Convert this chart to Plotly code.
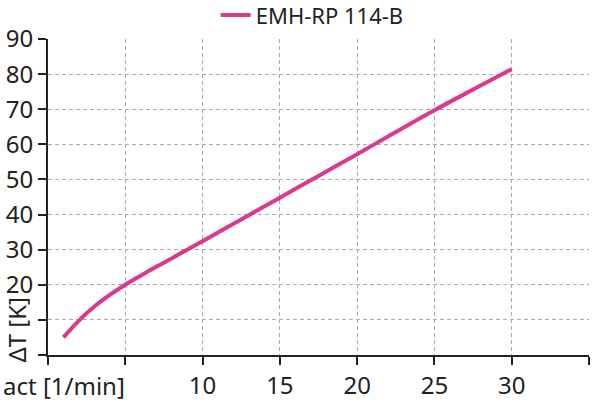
import plotly.graph_objects as go

# curve
speed = [1, 2, 3, 4, 5, 6, 7, 8, 9, 10, 12.5, 15, 17.5, 20, 22.5, 25, 27.5, 30]
delta_t = [5, 9.8, 13.8, 17.1, 20.0, 22.6, 25.1, 27.5, 30.0, 32.4, 38.6, 44.8, 51.0, 57.2, 63.5, 69.7, 75.6, 81.4]

x_ticks = [0, 5, 10, 15, 20, 25, 30, 35]
x_labels = ["", "", "10", "15", "20", "25", "30", "35"]
y_ticks = [0, 10, 20, 30, 40, 50, 60, 70, 80, 90]
y_labels = ["", "", "20", "30", "40", "50", "60", "70", "80", "90"]

font_name = "Noto Sans"
pink = "#d93a8c"

fig = go.Figure()
fig.add_trace(go.Scatter(
    x=speed, y=delta_t,
    mode="lines",
    line=dict(color=pink, width=4, shape="spline", smoothing=1),
    name="EMH-RP 114-B",
))

fig.update_layout(
    width=600, height=403,
    margin=dict(l=48, r=11, t=39, b=48, autoexpand=False),
    paper_bgcolor="white",
    plot_bgcolor="white",
    font=dict(family=font_name, size=24, color="#222"),
    showlegend=True,
    legend=dict(
        orientation="h",
        x=0.31, y=1.075, xanchor="left", yanchor="middle",
        font=dict(size=22),
        bgcolor="rgba(0,0,0,0)",
    ),
)

axis_common = dict(
    showline=True, linecolor="#222", linewidth=2,
    ticks="outside", ticklen=8, tickwidth=2, tickcolor="#222",
    showgrid=True, gridcolor="#aaaaaa", gridwidth=1, griddash="4px,3px",
    zeroline=False, automargin=False,
)
fig.update_xaxes(range=[0, 35], tickvals=x_ticks, ticktext=x_labels, **axis_common)
fig.update_yaxes(range=[0, 90], tickvals=y_ticks, ticktext=y_labels, **axis_common)

fig.add_annotation(
    text="act [1/min]", xref="paper", yref="paper",
    x=-0.087, y=-0.098, xanchor="left", yanchor="middle",
    showarrow=False, font=dict(size=24),
)
fig.add_annotation(
    text="ΔT [K]", xref="paper", yref="paper",
    x=-0.06, y=0.079, xanchor="center", yanchor="middle",
    textangle=-90, showarrow=False, font=dict(size=24),
)

# drop the page's default body margin so the figure sits at the window corner
fig.write_html(
    "out.html",
    config={"displayModeBar": False},
    post_script="document.body.style.margin = '0';",
)
